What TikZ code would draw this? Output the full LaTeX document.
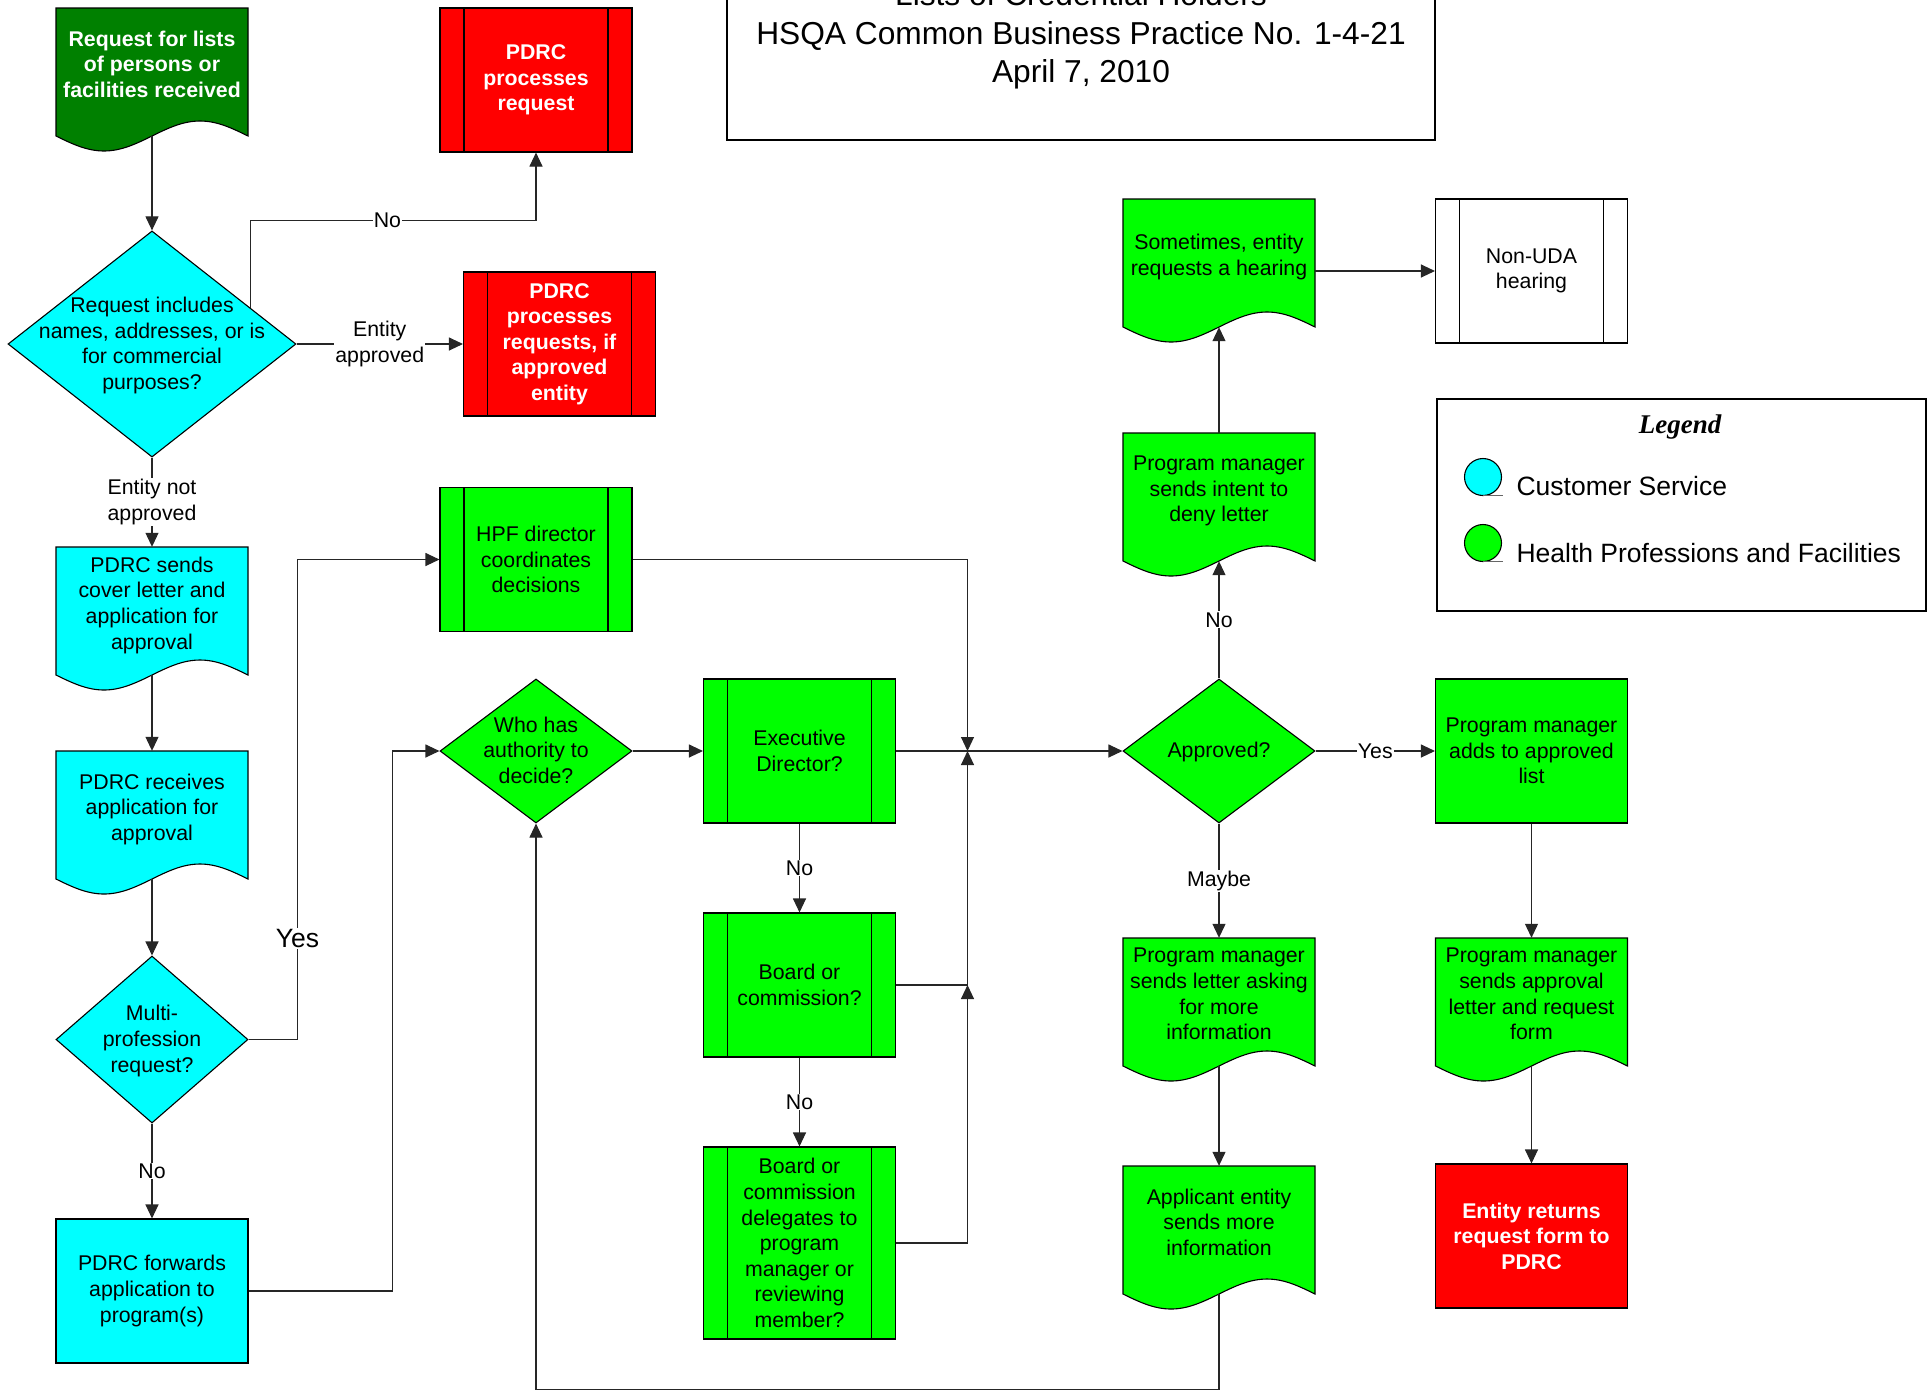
\documentclass[tikz,border=0pt]{standalone}
\usepackage{fontspec}
\setmainfont{Liberation Sans}
\newfontfamily\legendfont{Liberation Serif}
\usetikzlibrary{shapes.geometric,arrows.meta,calc}
\definecolor{csblue}{RGB}{0,255,255}
\definecolor{hpfgreen}{RGB}{0,255,0}
\definecolor{pdrcred}{RGB}{255,0,0}
\definecolor{startgreen}{RGB}{0,128,0}
\newcommand{\nsize}{\fontsize{21.3}{25.6}\selectfont}
\newcommand{\lsize}{\fontsize{26.5}{31}\selectfont}
\newcommand{\tsize}{\fontsize{31.7}{38.5}\selectfont}
\newcommand{\dtext}[1]{\smash{\raisebox{-.33em}{\begin{tabular}{@{}c@{}}#1\end{tabular}}}}
\newcommand{\docnode}[6][]{%
  \draw[box,fill=#5] (#3-96,#4) -- (#3-96,#4+128) sin (#3-48,#4+143) cos (#3,#4+128)
    sin (#3+48,#4+113) cos (#3+96,#4+128) -- (#3+96,#4) -- cycle;
  \node[doc,#1] (#2) at (#3,#4+64) {#6};}

\begin{document}
\begin{tikzpicture}[x=1pt,y=-1pt,every node/.style={font=\nsize},
  box/.style={draw=black,line width=1.1pt},
  doc/.style={rectangle,minimum width=192pt,minimum height=128pt,text depth=16pt,inner sep=2pt,align=center},
  pre/.style={box,rectangle,fill=#1,minimum width=192pt,minimum height=144pt,align=center,
    path picture={\draw[line width=1.1pt]
      ([xshift=24pt]path picture bounding box.north west) -- ([xshift=24pt]path picture bounding box.south west)
      ([xshift=-24pt]path picture bounding box.north east) -- ([xshift=-24pt]path picture bounding box.south east);}},
  proc/.style={box,rectangle,fill=#1,minimum width=192pt,minimum height=144pt,align=center},
  dec/.style={box,diamond,fill=#1,inner sep=0pt},
  wtxt/.style={text=white,font=\nsize\bfseries},
  arr/.style={draw=black!85,line width=1.1pt,-{Triangle[length=14pt,width=13pt]}},
  lbl/.style={fill=white,inner sep=1pt}]
\useasboundingbox (0,0) rectangle (1927,1393);

\node[box,rectangle,minimum width=708pt,minimum height=208pt,align=center,font=\tsize] (title) at (1081,36)
  {Lists of Credential Holders\\HSQA Common Business Practice No. 1-4-21\\April 7, 2010};

\docnode[wtxt]{req}{152}{8}{startgreen}{Request for lists\\of persons or\\facilities received}
\node[pre=pdrcred,wtxt] (pdrcreq) at (536,80) {PDRC\\processes\\request};
\node[dec=csblue,minimum width=288pt,minimum height=216pt] (incl) at (152,344)
  {\dtext{Request includes\\names, addresses, or is\\for commercial\\purposes?}};
\node[pre=pdrcred,wtxt] (pdrcent) at (559.5,344) {PDRC\\processes\\requests, if\\approved\\entity};
\docnode{sends}{152}{547}{csblue}{PDRC sends\\cover letter and\\application for\\approval}
\docnode{recv}{152}{751}{csblue}{PDRC receives\\application for\\approval}
\node[dec=csblue,minimum width=192pt,minimum height=167pt] (multi) at (152,1039.5)
  {\dtext{Multi-\\profession\\request?}};
\node[proc=csblue] (fwd) at (152,1291) {PDRC forwards\\application to\\program(s)};

\node[pre=hpfgreen] (hpf) at (536,559.5) {HPF director\\coordinates\\decisions};
\node[dec=hpfgreen,minimum width=192pt,minimum height=144pt] (who) at (536,751)
  {\dtext{Who has\\authority to\\decide?}};
\node[pre=hpfgreen] (exec) at (799.5,751) {Executive\\Director?};
\node[pre=hpfgreen] (board) at (799.5,985) {Board or\\commission?};
\node[pre=hpfgreen,minimum height=192pt] (deleg) at (799.5,1243)
  {Board or\\commission\\delegates to\\program\\manager or\\reviewing\\member?};

\docnode{some}{1219}{199}{hpfgreen}{Sometimes, entity\\requests a hearing}
\node[pre=white] (nonuda) at (1531.5,271) {Non-UDA\\hearing};
\docnode{intent}{1219}{433}{hpfgreen}{Program manager\\sends intent to\\deny letter}
\node[dec=hpfgreen,minimum width=192pt,minimum height=144pt] (appr) at (1219,751) {\dtext{Approved?}};
\node[proc=hpfgreen] (adds) at (1531.5,751) {Program manager\\adds to approved\\list};
\docnode{ask}{1219}{938}{hpfgreen}{Program manager\\sends letter asking\\for more\\information}
\docnode{apprletter}{1531.5}{938}{hpfgreen}{Program manager\\sends approval\\letter and request\\form}
\docnode{appl}{1219}{1166}{hpfgreen}{Applicant entity\\sends more\\information}
\node[proc=pdrcred,wtxt] (ret) at (1531.5,1236) {Entity returns\\request form to\\PDRC};

\draw[box] (1437,399) rectangle (1926,611);
\node (legtitle) at (1680,427) {\legendfont\fontsize{27}{30}\selectfont\bfseries\itshape Legend};
\draw[box,fill=csblue] (1483,477) circle (18.5pt);
\draw[line width=.8pt,black!60] (1483,495.5) -- (1503,495.5);
\node[anchor=west,font=\lsize] (legcs) at (1513,486) {Customer Service};
\draw[box,fill=hpfgreen] (1483,543) circle (18.5pt);
\draw[line width=.8pt,black!60] (1483,561.5) -- (1503,561.5);
\node[anchor=west,font=\lsize] (leghpf) at (1513,553) {Health Professions and Facilities};

\coordinate (inclno) at ($(incl.north)!.68!(incl.east)$);
\coordinate (jn) at (967.5,751);
\coordinate (bj) at (jn |- board.east);

\draw[arr] (req.south) -- (incl.north);
\draw[arr] (inclno) -- ++(0,-87) -| node[lbl,pos=.24]{No} (pdrcreq.south);
\draw[arr] (incl.east) -- node[lbl,align=center]{Entity\\approved} (pdrcent.west);
\draw[arr] (incl.south) -- node[lbl,align=center]{Entity not\\approved} (sends.north);
\draw[arr] (sends.south) -- (recv.north);
\draw[arr] (recv.south) -- (multi.north);
\draw[arr] (multi.south) -- node[lbl]{No} (fwd.north);
\draw[arr] (multi.east) -- ++(49,0) |- node[lbl,pos=.105,font=\lsize]{Yes} (hpf.west);
\draw[arr] (fwd.east) -- ++(144,0) |- (who.west);
\draw[arr] (who.east) -- (exec.west);
\draw[arr] (exec.east) -- (appr.west);
\draw[arr] (hpf.east) -| (jn);
\draw[arr] (board.east) -| (jn);
\draw[arr] (deleg.east) -| (bj);
\draw[arr] (exec.south) -- node[lbl]{No} (board.north);
\draw[arr] (board.south) -- node[lbl]{No} (deleg.north);
\draw[arr] (appl.south) -- ++(0,95) -| (who.south);
\draw[arr] (appr.north) -- node[lbl]{No} (intent.south);
\draw[arr] (intent.north) -- (some.south);
\draw[arr] (some.east |- nonuda.west) -- (nonuda.west);
\draw[arr] (appr.east) -- node[lbl]{Yes} (adds.west);
\draw[arr] (appr.south) -- node[lbl]{Maybe} (ask.north);
\draw[arr] (ask.south) -- (appl.north);
\draw[arr] (adds.south) -- (apprletter.north);
\draw[arr] (apprletter.south) -- (ret.north);
\end{tikzpicture}
\end{document}
